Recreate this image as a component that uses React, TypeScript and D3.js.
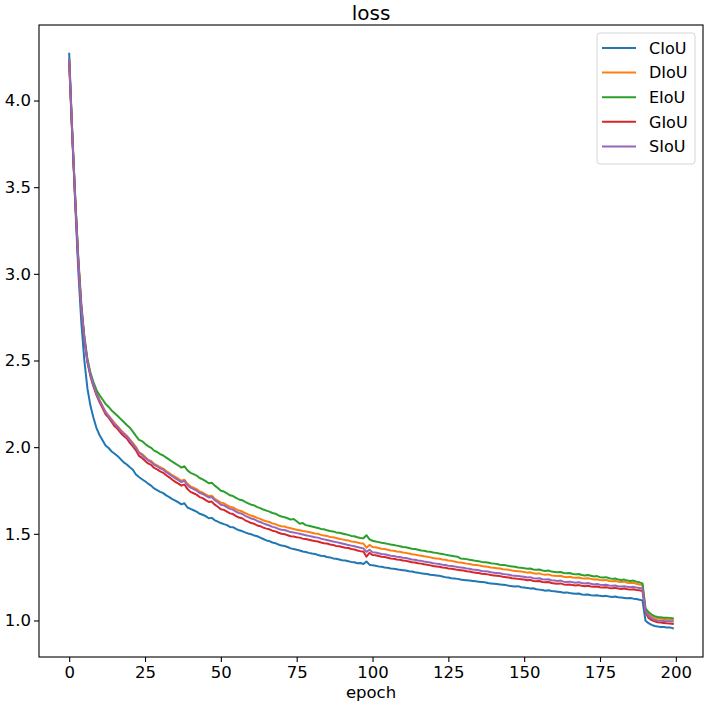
import React, { useEffect, useRef } from "react";
import * as d3 from "d3";

// loss values per epoch (0..199)
const ciou = [
  4.270, 3.820, 3.400, 3.020, 2.720, 2.500, 2.340, 2.240, 2.170, 2.110,
  2.070, 2.040, 2.010, 1.995, 1.975, 1.962, 1.948, 1.930, 1.912, 1.900,
  1.884, 1.870, 1.842, 1.828, 1.815, 1.803, 1.790, 1.778, 1.762, 1.752,
  1.742, 1.735, 1.722, 1.712, 1.700, 1.692, 1.681, 1.670, 1.676, 1.652,
  1.644, 1.636, 1.628, 1.616, 1.610, 1.602, 1.590, 1.592, 1.578, 1.570,
  1.562, 1.556, 1.550, 1.540, 1.538, 1.528, 1.520, 1.516, 1.508, 1.502,
  1.498, 1.490, 1.486, 1.478, 1.470, 1.462, 1.458, 1.450, 1.446, 1.438,
  1.432, 1.430, 1.424, 1.416, 1.412, 1.408, 1.404, 1.398, 1.395, 1.390,
  1.386, 1.384, 1.378, 1.374, 1.372, 1.366, 1.364, 1.358, 1.356, 1.352,
  1.348, 1.346, 1.342, 1.338, 1.336, 1.330, 1.332, 1.326, 1.340, 1.322,
  1.318, 1.316, 1.312, 1.310, 1.306, 1.304, 1.300, 1.298, 1.296, 1.292,
  1.290, 1.288, 1.284, 1.282, 1.278, 1.276, 1.272, 1.270, 1.268, 1.264,
  1.262, 1.260, 1.258, 1.254, 1.250, 1.248, 1.244, 1.242, 1.240, 1.236,
  1.234, 1.232, 1.230, 1.228, 1.226, 1.224, 1.222, 1.220, 1.216, 1.214,
  1.212, 1.210, 1.208, 1.206, 1.204, 1.200, 1.198, 1.196, 1.198, 1.192,
  1.190, 1.188, 1.184, 1.186, 1.180, 1.178, 1.176, 1.172, 1.174, 1.170,
  1.168, 1.166, 1.164, 1.160, 1.162, 1.158, 1.156, 1.154, 1.156, 1.150,
  1.148, 1.150, 1.146, 1.144, 1.146, 1.142, 1.140, 1.142, 1.138, 1.136,
  1.138, 1.134, 1.132, 1.130, 1.128, 1.130, 1.126, 1.124, 1.120, 1.116,
  0.998, 0.985, 0.975, 0.968, 0.965, 0.963, 0.962, 0.960, 0.960, 0.955,
];

const diou = [
  4.230, 3.810, 3.430, 3.080, 2.810, 2.630, 2.500, 2.420, 2.360, 2.310,
  2.272, 2.238, 2.205, 2.182, 2.160, 2.138, 2.120, 2.100, 2.082, 2.066,
  2.045, 2.024, 2.002, 1.972, 1.960, 1.944, 1.928, 1.920, 1.904, 1.895,
  1.884, 1.876, 1.862, 1.850, 1.838, 1.828, 1.818, 1.806, 1.812, 1.788,
  1.774, 1.766, 1.758, 1.744, 1.738, 1.728, 1.718, 1.720, 1.702, 1.692,
  1.680, 1.676, 1.666, 1.656, 1.652, 1.642, 1.634, 1.630, 1.620, 1.612,
  1.604, 1.600, 1.592, 1.586, 1.578, 1.572, 1.568, 1.560, 1.556, 1.548,
  1.544, 1.542, 1.536, 1.532, 1.528, 1.524, 1.520, 1.516, 1.514, 1.510,
  1.506, 1.502, 1.500, 1.494, 1.490, 1.488, 1.482, 1.480, 1.476, 1.472,
  1.468, 1.464, 1.462, 1.456, 1.454, 1.450, 1.446, 1.444, 1.420, 1.436,
  1.424, 1.422, 1.418, 1.414, 1.412, 1.408, 1.404, 1.402, 1.398, 1.396,
  1.392, 1.390, 1.386, 1.382, 1.380, 1.376, 1.374, 1.370, 1.368, 1.364,
  1.360, 1.358, 1.356, 1.352, 1.350, 1.346, 1.344, 1.340, 1.336, 1.334,
  1.332, 1.328, 1.326, 1.322, 1.320, 1.318, 1.314, 1.312, 1.310, 1.306,
  1.304, 1.302, 1.300, 1.296, 1.294, 1.292, 1.288, 1.286, 1.284, 1.282,
  1.280, 1.276, 1.278, 1.272, 1.270, 1.272, 1.266, 1.264, 1.266, 1.260,
  1.258, 1.256, 1.258, 1.252, 1.250, 1.252, 1.248, 1.246, 1.248, 1.244,
  1.242, 1.244, 1.240, 1.236, 1.238, 1.234, 1.232, 1.234, 1.228, 1.226,
  1.228, 1.224, 1.222, 1.224, 1.218, 1.216, 1.218, 1.212, 1.208, 1.204,
  1.062, 1.035, 1.022, 1.015, 1.012, 1.010, 1.008, 1.006, 1.005, 1.004,
];

const eiou = [
  4.240, 3.820, 3.440, 3.095, 2.825, 2.640, 2.510, 2.430, 2.375, 2.330,
  2.300, 2.275, 2.250, 2.232, 2.212, 2.196, 2.180, 2.162, 2.145, 2.128,
  2.112, 2.090, 2.065, 2.042, 2.035, 2.020, 2.006, 1.996, 1.980, 1.972,
  1.960, 1.952, 1.940, 1.928, 1.916, 1.905, 1.894, 1.882, 1.890, 1.866,
  1.852, 1.844, 1.836, 1.822, 1.814, 1.804, 1.792, 1.794, 1.778, 1.764,
  1.748, 1.744, 1.734, 1.722, 1.718, 1.708, 1.698, 1.694, 1.684, 1.676,
  1.668, 1.664, 1.654, 1.648, 1.640, 1.634, 1.628, 1.620, 1.616, 1.606,
  1.600, 1.596, 1.590, 1.582, 1.586, 1.572, 1.558, 1.562, 1.550, 1.546,
  1.542, 1.538, 1.534, 1.528, 1.526, 1.520, 1.516, 1.514, 1.508, 1.506,
  1.502, 1.498, 1.494, 1.488, 1.486, 1.480, 1.476, 1.474, 1.492, 1.468,
  1.460, 1.456, 1.452, 1.448, 1.446, 1.442, 1.438, 1.436, 1.432, 1.428,
  1.424, 1.422, 1.418, 1.414, 1.412, 1.408, 1.404, 1.402, 1.398, 1.396,
  1.392, 1.390, 1.386, 1.384, 1.380, 1.376, 1.374, 1.370, 1.368, 1.358,
  1.356, 1.354, 1.350, 1.348, 1.344, 1.342, 1.338, 1.336, 1.334, 1.330,
  1.328, 1.326, 1.322, 1.320, 1.318, 1.314, 1.312, 1.310, 1.306, 1.304,
  1.302, 1.298, 1.300, 1.294, 1.292, 1.294, 1.288, 1.286, 1.288, 1.282,
  1.280, 1.278, 1.280, 1.274, 1.272, 1.274, 1.268, 1.266, 1.268, 1.262,
  1.260, 1.262, 1.258, 1.254, 1.256, 1.250, 1.248, 1.250, 1.244, 1.240,
  1.242, 1.236, 1.234, 1.236, 1.230, 1.228, 1.230, 1.224, 1.220, 1.214,
  1.070, 1.048, 1.034, 1.025, 1.020, 1.018, 1.016, 1.016, 1.015, 1.012,
];

const giou = [
  4.220, 3.800, 3.420, 3.070, 2.800, 2.620, 2.490, 2.410, 2.350, 2.300,
  2.260, 2.225, 2.190, 2.170, 2.145, 2.120, 2.104, 2.082, 2.064, 2.050,
  2.025, 2.005, 1.982, 1.950, 1.938, 1.922, 1.906, 1.898, 1.880, 1.872,
  1.860, 1.852, 1.838, 1.826, 1.812, 1.800, 1.790, 1.778, 1.785, 1.758,
  1.742, 1.734, 1.726, 1.712, 1.706, 1.694, 1.684, 1.686, 1.668, 1.656,
  1.642, 1.638, 1.628, 1.618, 1.614, 1.602, 1.594, 1.590, 1.578, 1.570,
  1.562, 1.558, 1.548, 1.544, 1.536, 1.530, 1.526, 1.518, 1.514, 1.506,
  1.500, 1.498, 1.492, 1.486, 1.484, 1.480, 1.478, 1.472, 1.470, 1.466,
  1.462, 1.458, 1.456, 1.450, 1.446, 1.444, 1.438, 1.436, 1.430, 1.428,
  1.424, 1.420, 1.418, 1.412, 1.410, 1.404, 1.400, 1.398, 1.368, 1.390,
  1.378, 1.376, 1.372, 1.368, 1.366, 1.362, 1.358, 1.356, 1.352, 1.350,
  1.346, 1.344, 1.340, 1.336, 1.334, 1.330, 1.328, 1.324, 1.322, 1.318,
  1.314, 1.312, 1.310, 1.306, 1.304, 1.300, 1.298, 1.296, 1.292, 1.290,
  1.288, 1.284, 1.282, 1.278, 1.276, 1.274, 1.270, 1.268, 1.266, 1.262,
  1.260, 1.258, 1.256, 1.252, 1.250, 1.248, 1.244, 1.242, 1.240, 1.238,
  1.236, 1.232, 1.234, 1.228, 1.226, 1.228, 1.222, 1.220, 1.222, 1.216,
  1.214, 1.212, 1.214, 1.208, 1.206, 1.208, 1.204, 1.202, 1.204, 1.200,
  1.198, 1.200, 1.196, 1.194, 1.196, 1.192, 1.190, 1.192, 1.188, 1.186,
  1.188, 1.184, 1.182, 1.184, 1.180, 1.178, 1.180, 1.176, 1.174, 1.170,
  1.045, 1.015, 1.002, 0.995, 0.990, 0.988, 0.986, 0.984, 0.983, 0.980,
];

const siou = [
  4.240, 3.815, 3.432, 3.078, 2.806, 2.626, 2.496, 2.418, 2.358, 2.308,
  2.270, 2.234, 2.200, 2.178, 2.156, 2.132, 2.116, 2.094, 2.078, 2.062,
  2.040, 2.018, 1.996, 1.966, 1.956, 1.938, 1.924, 1.914, 1.898, 1.890,
  1.878, 1.870, 1.856, 1.844, 1.832, 1.820, 1.810, 1.798, 1.806, 1.780,
  1.766, 1.758, 1.750, 1.736, 1.730, 1.720, 1.710, 1.712, 1.694, 1.682,
  1.668, 1.664, 1.654, 1.644, 1.640, 1.628, 1.620, 1.616, 1.604, 1.596,
  1.588, 1.584, 1.574, 1.568, 1.560, 1.554, 1.548, 1.540, 1.536, 1.528,
  1.524, 1.522, 1.516, 1.510, 1.508, 1.504, 1.500, 1.496, 1.492, 1.488,
  1.484, 1.480, 1.478, 1.472, 1.468, 1.464, 1.460, 1.456, 1.452, 1.448,
  1.444, 1.440, 1.436, 1.432, 1.428, 1.424, 1.420, 1.416, 1.396, 1.408,
  1.394, 1.392, 1.388, 1.384, 1.382, 1.378, 1.374, 1.372, 1.368, 1.366,
  1.362, 1.360, 1.356, 1.352, 1.350, 1.346, 1.344, 1.340, 1.338, 1.334,
  1.330, 1.328, 1.326, 1.322, 1.320, 1.316, 1.314, 1.312, 1.308, 1.306,
  1.304, 1.300, 1.298, 1.294, 1.292, 1.290, 1.286, 1.284, 1.282, 1.278,
  1.276, 1.274, 1.272, 1.268, 1.266, 1.264, 1.260, 1.258, 1.256, 1.254,
  1.252, 1.248, 1.250, 1.244, 1.242, 1.244, 1.238, 1.236, 1.238, 1.232,
  1.230, 1.228, 1.230, 1.224, 1.222, 1.224, 1.220, 1.218, 1.220, 1.216,
  1.214, 1.216, 1.212, 1.208, 1.210, 1.206, 1.204, 1.206, 1.202, 1.200,
  1.202, 1.198, 1.196, 1.198, 1.194, 1.192, 1.194, 1.190, 1.188, 1.184,
  1.052, 1.025, 1.012, 1.005, 1.000, 0.998, 0.997, 0.996, 0.996, 0.995,
];

const seriesNames = ["CIoU", "DIoU", "EIoU", "GIoU", "SIoU"];
const seriesColors = ["#1f77b4", "#ff7f0e", "#2ca02c", "#d62728", "#9467bd"];
const seriesValues = [ciou, diou, eiou, giou, siou];
const xTicks = [0, 25, 50, 75, 100, 125, 150, 175, 200];
const yTicks = [1.0, 1.5, 2.0, 2.5, 3.0, 3.5, 4.0];

const W = 711;
const H = 709;
const FONT = "'DejaVu Sans', sans-serif";

const LossChart = () => {
  const ref = useRef<SVGSVGElement | null>(null);

  useEffect(() => {
    if (!ref.current) return;
    const svg = d3.select(ref.current);
    svg.selectAll("*").remove();

    const margin = { top: 25, right: 8, bottom: 52, left: 39 };
    const x0 = margin.left;
    const x1 = W - margin.right;
    const y0 = H - margin.bottom;
    const y1 = margin.top;

    // matplotlib style 5% padding around the data
    const n = ciou.length;
    const xPad = (n - 1) * 0.05;
    const all = seriesValues.flat();
    const vMin = d3.min(all)!;
    const vMax = d3.max(all)!;
    const yPad = (vMax - vMin) * 0.05;

    const x = d3.scaleLinear().domain([-xPad, n - 1 + xPad]).range([x0, x1]);
    const y = d3.scaleLinear().domain([vMin - yPad, vMax + yPad]).range([y0, y1]);

    svg.append("rect").attr("width", W).attr("height", H).attr("fill", "#fff");

    // lines
    const line = d3
      .line<number>()
      .x((_, i) => x(i))
      .y((d) => y(d));

    svg
      .append("g")
      .selectAll("path")
      .data(seriesValues)
      .enter()
      .append("path")
      .attr("d", (d) => line(d))
      .attr("fill", "none")
      .attr("stroke", (_, i) => seriesColors[i])
      .attr("stroke-width", 2)
      .attr("stroke-linejoin", "round")
      .attr("stroke-linecap", "square");

    // frame
    svg
      .append("rect")
      .attr("x", x0)
      .attr("y", y1)
      .attr("width", x1 - x0)
      .attr("height", y0 - y1)
      .attr("fill", "none")
      .attr("stroke", "#000")
      .attr("stroke-width", 1.1);

    // axes
    const xAxis = svg
      .append("g")
      .attr("transform", `translate(0, ${y0})`)
      .call(d3.axisBottom(x).tickValues(xTicks).tickSize(5).tickPadding(4).tickFormat(d3.format("d")));
    const yAxis = svg
      .append("g")
      .attr("transform", `translate(${x0}, 0)`)
      .call(d3.axisLeft(y).tickValues(yTicks).tickSize(5).tickPadding(3).tickFormat(d3.format(".1f")));

    [xAxis, yAxis].forEach((ax) => {
      ax.select(".domain").remove();
      ax.selectAll(".tick line").attr("stroke", "#000").attr("stroke-width", 1.1);
      ax.selectAll(".tick text")
        .attr("fill", "#000")
        .style("font-family", FONT)
        .style("font-size", "16.5px");
    });

    // title + x label
    svg
      .append("text")
      .attr("x", (x0 + x1) / 2)
      .attr("y", 20)
      .attr("text-anchor", "middle")
      .style("font-family", FONT)
      .style("font-size", "20px")
      .text("loss");

    svg
      .append("text")
      .attr("x", (x0 + x1) / 2)
      .attr("y", 698)
      .attr("text-anchor", "middle")
      .style("font-family", FONT)
      .style("font-size", "16.5px")
      .text("epoch");

    // legend
    const lg = svg.append("g").attr("transform", `translate(597, 33)`);
    lg.append("rect")
      .attr("width", 98)
      .attr("height", 131)
      .attr("rx", 3)
      .attr("fill", "#fff")
      .attr("fill-opacity", 0.8)
      .attr("stroke", "#d6d6d6")
      .attr("stroke-width", 1);

    const rows = lg
      .selectAll("g.row")
      .data(seriesNames)
      .enter()
      .append("g")
      .attr("class", "row")
      .attr("transform", (_, i) => `translate(0, ${15 + i * 24.6})`);

    rows
      .append("line")
      .attr("x1", 5)
      .attr("x2", 39)
      .attr("stroke", (_, i) => seriesColors[i])
      .attr("stroke-width", 2);

    rows
      .append("text")
      .attr("x", 52)
      .attr("dy", "0.36em")
      .style("font-family", FONT)
      .style("font-size", "16px")
      .text((d) => d);
  }, []);

  return <svg ref={ref} width={W} height={H} style={{ display: "block" }} />;
};

export default function App() {
  return (
    <div style={{ position: "absolute", left: 0, top: 0 }}>
      <LossChart />
    </div>
  );
}
